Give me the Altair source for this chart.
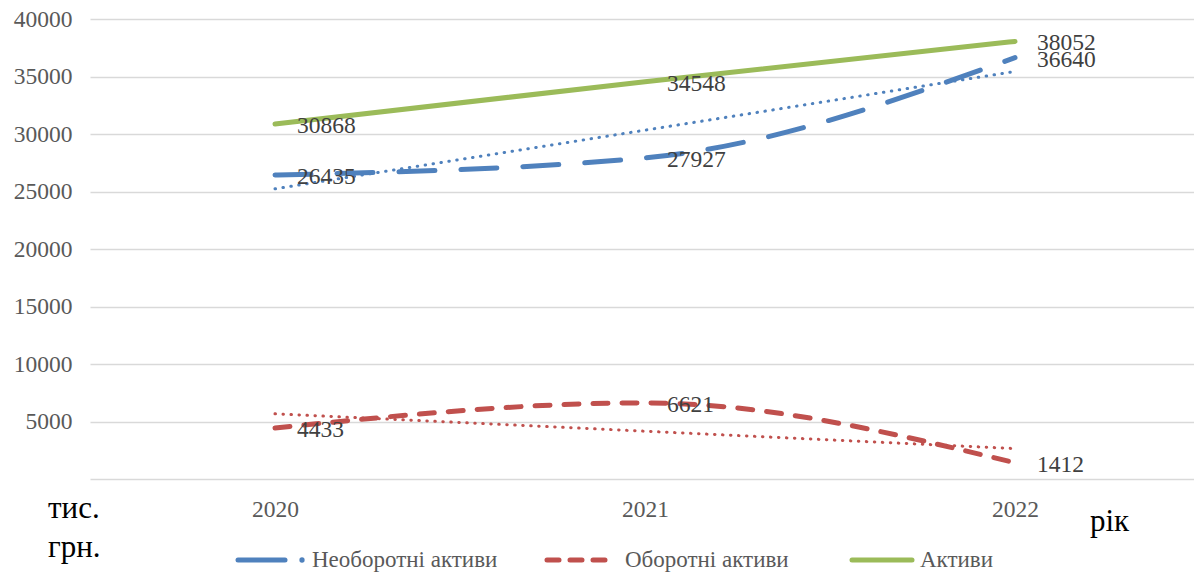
import altair as alt
import pandas as pd

# Balance sheet asset structure, thousand UAH
years = [2020, 2021, 2022]
non_current_assets = [26435, 27927, 36640]
current_assets = [4433, 6621, 1412]
total_assets = [30868, 34548, 38052]

series_names = ["Необоротні активи", "Оборотні активи", "Активи"]
series_colors = ["#4F81BD", "#C0504D", "#9BBB59"]
y_ticks = [0, 5000, 10000, 15000, 20000, 25000, 30000, 35000, 40000]

rows = []
for name, vals in zip(series_names, [non_current_assets, current_assets, total_assets]):
    for yr, v in zip(years, vals):
        rows.append({"year": yr, "value": v, "series": name})
df = pd.DataFrame(rows)

SERIF = "'Liberation Serif', 'Times New Roman', Times, serif"
W, H = 1104, 460

x_enc = alt.X("year:Q",
              scale=alt.Scale(domain=[2019.5, 2022.4838], nice=False, zero=False),
              axis=alt.Axis(values=years, format="d", title=None, grid=False,
                            ticks=False, domain=False, labelFontSize=23.5,
                            labelColor="#595959", labelFont=SERIF, labelPadding=18))
y_enc = alt.Y("value:Q",
              scale=alt.Scale(domain=[0, 40000], nice=False),
              axis=alt.Axis(values=y_ticks, format="d", title=None, domain=False,
                            ticks=False, labelFontSize=23.5, labelColor="#595959",
                            labelFont=SERIF, labelPadding=18, gridColor="#D9D9D9",
                            gridWidth=1.5,
                            labelExpr="datum.value == 0 ? '' : datum.label"))
color_enc = alt.Color("series:N",
                      scale=alt.Scale(domain=series_names, range=series_colors),
                      legend=None)

base = alt.Chart(df).encode(x=x_enc, y=y_enc)

green = base.transform_filter(alt.datum.series == series_names[2]).mark_line(
    color=series_colors[2], strokeWidth=5, interpolate="monotone", strokeCap="round")
blue = base.transform_filter(alt.datum.series == series_names[0]).mark_line(
    color=series_colors[0], strokeWidth=5, interpolate="monotone", strokeCap="round",
    strokeDash=[36, 26])
red = base.transform_filter(alt.datum.series == series_names[1]).mark_line(
    color=series_colors[1], strokeWidth=5, interpolate="monotone", strokeCap="round",
    strokeDash=[15, 14])

# Linear trend lines for the two asset components
trend = alt.Chart(df).transform_filter(
    alt.FieldOneOfPredicate(field="series", oneOf=series_names[:2])
).transform_regression(
    "year", "value", groupby=["series"], extent=[2020, 2022]
).mark_line(strokeWidth=3, strokeCap="round", strokeDash=[0.5, 7.5]).encode(
    x=alt.X("year:Q"), y=alt.Y("value:Q"), color=color_enc)

labels = base.mark_text(align="left", baseline="middle", dx=22, dy=2,
                        font=SERIF, fontSize=23.5, color="#404040").encode(
    text=alt.Text("value:Q", format="d"))


def caption(text, x, y, size=31):
    return alt.Chart(pd.DataFrame({"t": [text]})).mark_text(
        align="left", baseline="middle", font=SERIF, fontSize=size, color="#000000"
    ).encode(x=alt.value(x), y=alt.value(y), text="t:N")


def legend_label(text, x, y):
    return alt.Chart(pd.DataFrame({"t": [text]})).mark_text(
        align="left", baseline="middle", font=SERIF, fontSize=23, color="#595959"
    ).encode(x=alt.value(x), y=alt.value(y), text="t:N")


LY = 541
leg_blue = alt.Chart(pd.DataFrame({"k": [0]})).mark_rule(
    color=series_colors[0], strokeWidth=5, strokeCap="round"
).encode(x=alt.value(148), x2=alt.value(195), y=alt.value(LY))
leg_dot = alt.Chart(pd.DataFrame({"k": [0]})).mark_point(
    color=series_colors[0], filled=True, size=28, opacity=1
).encode(x=alt.value(212), y=alt.value(LY))
leg_red = alt.Chart(pd.DataFrame({"k": [0]})).mark_rule(
    color=series_colors[1], strokeWidth=5, strokeCap="round", strokeDash=[12, 11]
).encode(x=alt.value(457), x2=alt.value(521), y=alt.value(LY))
leg_green = alt.Chart(pd.DataFrame({"k": [0]})).mark_rule(
    color=series_colors[2], strokeWidth=5, strokeCap="round"
).encode(x=alt.value(762), x2=alt.value(822), y=alt.value(LY))

chart = alt.layer(
    green, blue, red, trend, labels,
    caption("тис.", -42, 490), caption("грн.", -42, 529), caption("рік", 1000, 503),
    leg_blue, leg_dot, legend_label(series_names[0], 222, LY),
    leg_red, legend_label(series_names[1], 535, LY),
    leg_green, legend_label(series_names[2], 830, LY),
).properties(
    width=W, height=H,
    autosize=alt.AutoSizeParams(type="none"),
    padding={"left": 90, "top": 19, "right": 0, "bottom": 95},
    background="white",
).configure(font=SERIF).configure_view(stroke=None)

chart.save("out.html", embed_options={"renderer": "svg", "actions": False})
